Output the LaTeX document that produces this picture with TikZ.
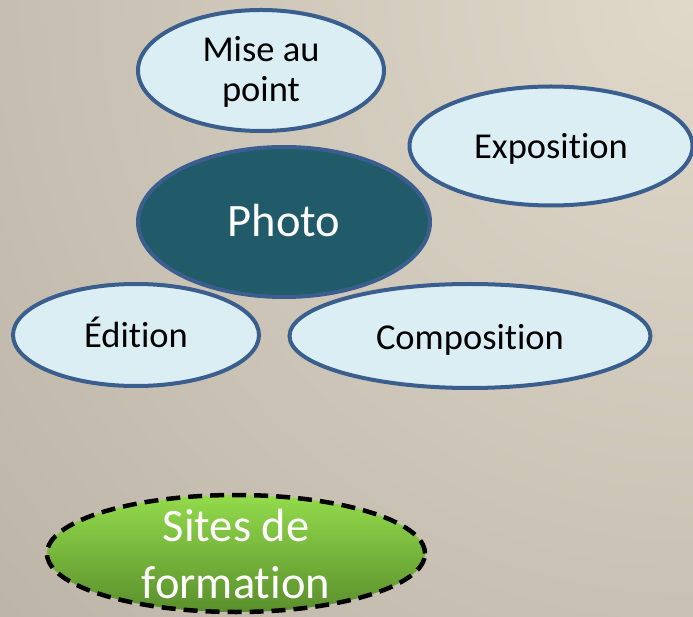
\documentclass[tikz,border=0pt]{standalone}
\usepackage{fontspec}
\setmainfont{Carlito}[Ligatures={NoCommon,NoRequired,NoContextual}]
\usetikzlibrary{shapes.geometric}
\definecolor{bgA}{HTML}{E0D9CA}
\definecolor{bgB}{HTML}{988F83}
\definecolor{edgeblue}{HTML}{3A5F8F}
\definecolor{lightfill}{HTML}{DBEEF4}
\definecolor{darkfill}{HTML}{215A68}
\definecolor{gtop}{HTML}{93DB4C}
\definecolor{gbot}{HTML}{5A8F2C}
\begin{document}
\begin{tikzpicture}[x=1pt,y=-1pt,
  ell/.style={ellipse, draw=edgeblue, line width=4pt, fill=lightfill, inner sep=0pt,
    align=center, text=black, font=\fontsize{36.5}{40.3}\selectfont},
  oneline/.style={text height=26pt, text depth=0pt},
  photoell/.style={ell, fill=darkfill, text=white, font=\fontsize{46.5}{57}\selectfont,
    text height=30pt, text depth=0pt},
  siteell/.style={ellipse, draw=black, line width=4.5pt, dash pattern=on 14pt off 8pt,
    top color=gtop, bottom color=gbot, inner sep=0pt, align=center, text=white,
    font=\fontsize{46.5}{57}\selectfont}]
\useasboundingbox (0,0) rectangle (693,617);
\begin{scope}
  \clip (0,0) rectangle (693,617);
  \shade[inner color=bgA, outer color=bgB] (693,0) circle (1900);
\end{scope}
\node[ell, minimum width=246, minimum height=121] (mise) at (261,70.5)
  {\raisebox{8.8pt}[0pt][0pt]{\begin{tabular}[t]{@{}c@{}}Mise au\\point\end{tabular}}};
\node[ell, oneline, minimum width=283, minimum height=119] (expo) at (551,146) {Exposition};
\node[ell, oneline, minimum width=246, minimum height=102] (edit) at (136,335) {Édition};
\node[ell, oneline, minimum width=361, minimum height=104] (comp) at (470,336) {Composition};
\node[photoell, minimum width=292, minimum height=150] (photo) at (284,222) {Photo};
\node[siteell, minimum width=378, minimum height=117] (sites) at (236,553.5)
  {\raisebox{11.8pt}[0pt][0pt]{\begin{tabular}[t]{@{}c@{}}Sites de\\formation\end{tabular}}};
\end{tikzpicture}
\end{document}
